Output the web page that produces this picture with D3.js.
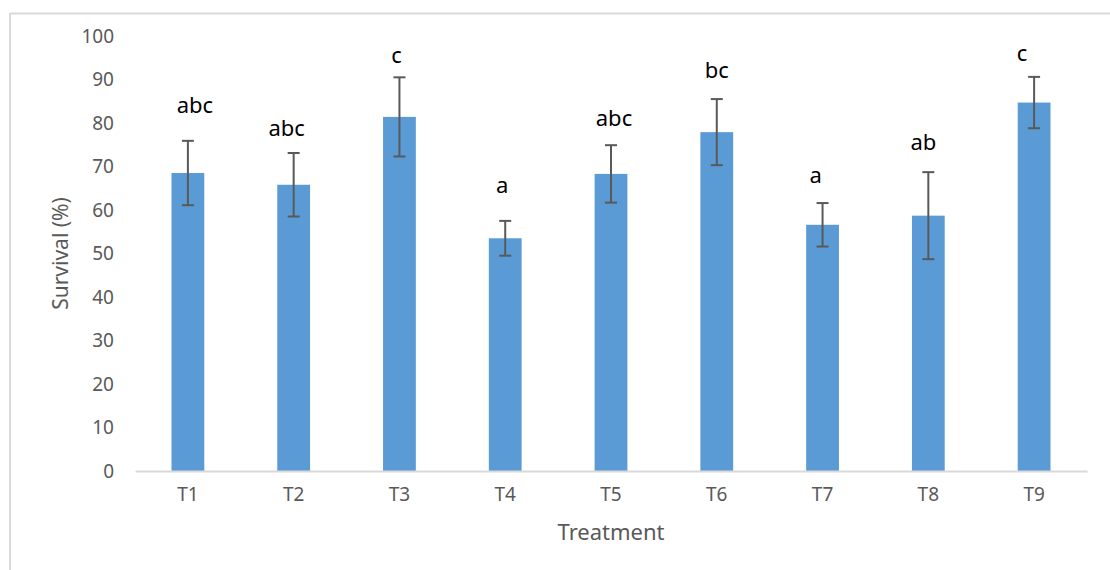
<!DOCTYPE html>
<html>
<head>
<meta charset="utf-8">
<script src="https://cdn.jsdelivr.net/npm/d3@7"></script>
<style>
  html, body { margin: 0; padding: 0; background: #ffffff; }
  svg { display: block; font-family: "Noto Sans", "Open Sans", sans-serif; }
</style>
</head>
<body>
<svg id="chart" width="1110" height="570"></svg>
<script>
// ---- data ----
const categories = ["T1", "T2", "T3", "T4", "T5", "T6", "T7", "T8", "T9"];
const survival   = [68.5, 65.8, 81.4, 53.5, 68.3, 77.9, 56.6, 58.7, 84.7];
const errors     = [7.4, 7.3, 9.1, 4.0, 6.6, 7.6, 5.0, 10.0, 5.9];
const letters    = ["abc", "abc", "c", "a", "abc", "bc", "a", "ab", "c"];
const letterAt   = [82.2, 76.9, 93.9, 63.8, 79.3, 90.3, 66.1, 73.7, 94.2];
const yTicks     = [0, 10, 20, 30, 40, 50, 60, 70, 80, 90, 100];

// ---- layout ----
const W = 1110, H = 570;
const plot = { left: 135, right: 1087, top: 36, bottom: 471 };
const letterDx = [7, -7, -3, -3, 3, 0, -7, -5, -12];

const svg = d3.select("#chart");

// outer frame (light grey, only top and left visible)
svg.append("line").attr("x1", 10).attr("x2", W).attr("y1", 13.5).attr("y2", 13.5)
  .attr("stroke", "#d9d9d9").attr("stroke-width", 2);
svg.append("line").attr("x1", 10).attr("x2", 10).attr("y1", 13).attr("y2", H)
  .attr("stroke", "#d9d9d9").attr("stroke-width", 2);

const x = d3.scaleBand()
  .domain(categories)
  .range([plot.left, plot.right])
  .paddingInner(0.69)
  .paddingOuter(0.345);

const y = d3.scaleLinear().domain([0, 100]).range([plot.bottom, plot.top]);

// y axis (labels only)
const yAxis = d3.axisLeft(y).tickValues(yTicks).tickSize(0).tickPadding(0);
const yg = svg.append("g").attr("transform", `translate(114,0)`).call(yAxis);
yg.select(".domain").remove();
yg.selectAll("text")
  .attr("fill", "#595959")
  .style("font-size", "19px")
  .style("font-family", "'Noto Sans', sans-serif");

// bars
svg.append("g").selectAll("rect")
  .data(categories)
  .join("rect")
  .attr("x", d => x(d))
  .attr("width", x.bandwidth())
  .attr("y", (d, i) => y(survival[i]))
  .attr("height", (d, i) => y(0) - y(survival[i]))
  .attr("fill", "#5b9bd5");

// x axis
const xAxis = d3.axisBottom(x).tickSize(0).tickPadding(17);
const xg = svg.append("g").attr("transform", `translate(0,${plot.bottom})`).call(xAxis);
xg.select(".domain").attr("stroke", "#d9d9d9").attr("stroke-width", 2);
xg.selectAll("text")
  .attr("fill", "#595959")
  .style("font-size", "19px")
  .style("font-family", "'Noto Sans', sans-serif");

// error bars
const capW = 12;
const eg = svg.append("g").attr("stroke", "#595959").attr("stroke-width", 2).attr("fill", "none");
categories.forEach((c, i) => {
  const cx = x(c) + x.bandwidth() / 2;
  const hi = y(survival[i] + errors[i]);
  const lo = y(survival[i] - errors[i]);
  eg.append("line").attr("x1", cx).attr("x2", cx).attr("y1", hi).attr("y2", lo);
  eg.append("line").attr("x1", cx - capW / 2).attr("x2", cx + capW / 2).attr("y1", hi).attr("y2", hi);
  eg.append("line").attr("x1", cx - capW / 2).attr("x2", cx + capW / 2).attr("y1", lo).attr("y2", lo);
});

// significance letters
svg.append("g").selectAll("text")
  .data(categories)
  .join("text")
  .attr("x", (d, i) => x(d) + x.bandwidth() / 2 + letterDx[i])
  .attr("y", (d, i) => y(letterAt[i]))
  .attr("text-anchor", "middle")
  .attr("fill", "#000000")
  .style("font-size", "22px")
  .text((d, i) => letters[i]);

// axis titles
svg.append("text")
  .attr("x", (plot.left + plot.right) / 2)
  .attr("y", 540)
  .attr("text-anchor", "middle")
  .attr("fill", "#595959")
  .style("font-size", "22px")
  .text("Treatment");

svg.append("text")
  .attr("transform", `translate(68,${(plot.top + plot.bottom) / 2}) rotate(-90)`)
  .attr("text-anchor", "middle")
  .attr("fill", "#595959")
  .style("font-size", "21px")
  .text("Survival (%)");
</script>
</body>
</html>
